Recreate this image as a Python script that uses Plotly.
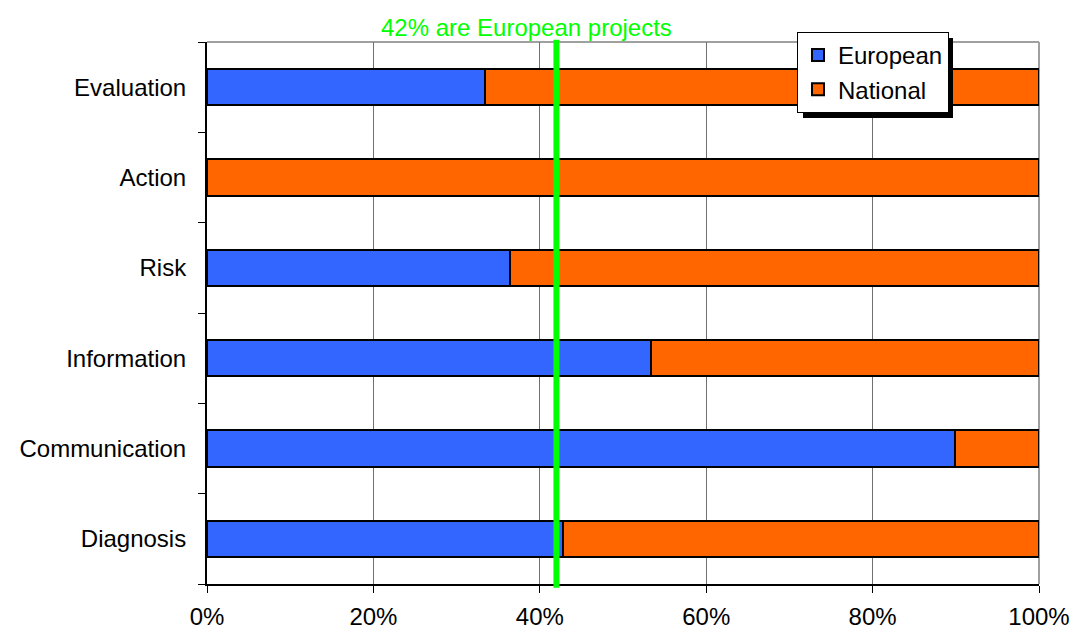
import plotly.graph_objects as go

categories = ["Diagnosis", "Communication", "Information", "Risk", "Action", "Evaluation"]
european = [0.428, 0.899, 0.534, 0.364, 0.0, 0.334]
national = [round(1 - v, 3) for v in european]
x_ticks = [0, 0.2, 0.4, 0.6, 0.8, 1.0]
x_tick_labels = ["0%", "20%", "40%", "60%", "80%", "100%"]
european_share = 0.42
annotation_text = "42% are European projects"

FONT = "Liberation Sans, Arial, sans-serif"
W, H = 1074, 631

fig = go.Figure()
fig.add_trace(go.Bar(
    y=categories, x=european, orientation="h", name="European",
    marker=dict(color="#3366FF", line=dict(color="black", width=2)),
    width=0.4,
))
fig.add_trace(go.Bar(
    y=categories, x=national, orientation="h", name="National",
    marker=dict(color="#FF6600", line=dict(color="black", width=2)),
    width=0.4,
))

fig.update_layout(
    barmode="stack",
    width=W, height=H,
    margin=dict(l=207, r=35, t=42, b=47, autoexpand=False),
    paper_bgcolor="white", plot_bgcolor="white",
    font=dict(family=FONT, size=24, color="black"),
    showlegend=True,
    legend=dict(
        xref="container", yref="container",
        x=797 / W, y=1 - 32 / H,
        xanchor="left", yanchor="top",
        bgcolor="white", bordercolor="black", borderwidth=1,
        font=dict(size=24, family=FONT),
        traceorder="normal",
    ),
    xaxis=dict(
        range=[0, 1], tickvals=x_ticks, ticktext=x_tick_labels,
        showgrid=True, gridcolor="#707070", gridwidth=1,
        showline=True, linecolor="black", linewidth=2,
        ticks="outside", ticklen=7, tickcolor="black", tickwidth=1,
        ticklabelstandoff=3,
        zeroline=False, fixedrange=True, automargin=False,
    ),
    yaxis=dict(
        categoryorder="array", categoryarray=categories,
        showgrid=False, showline=True, linecolor="black", linewidth=2,
        ticks="outside", tickson="boundaries", ticklen=7, tickcolor="black", tickwidth=1,
        ticklabelstandoff=14,
        zeroline=False, fixedrange=True, automargin=False,
    ),
    shapes=[
        # top border
        dict(type="line", xref="paper", yref="paper", x0=0, x1=1, y0=1, y1=1,
             line=dict(color="#A0A0A0", width=2), layer="below"),
        # right border
        dict(type="line", xref="paper", yref="paper", x0=1, x1=1, y0=0, y1=1,
             line=dict(color="#A0A0A0", width=2), layer="below"),
        # legend shadow
        dict(type="rect", xref="paper", yref="paper",
             x0=(803 - 207) / 832, x1=(953 - 207) / 832,
             y0=(584 - 118) / 542, y1=(584 - 38) / 542,
             fillcolor="black", line=dict(width=0), layer="above"),
        # 42% line
        dict(type="line", xref="x", yref="paper", x0=european_share, x1=european_share,
             y0=-0.007, y1=1.004, line=dict(color="#00FF00", width=6), layer="above"),
    ],
    annotations=[
        dict(text=annotation_text, xref="paper", yref="paper",
             x=(526 - 207) / 832, y=(584 - 27) / 542,
             xanchor="center", yanchor="middle", showarrow=False,
             font=dict(color="#00FF00", size=24, family=FONT)),
    ],
)

fig.write_html(
    "out.html",
    config={"displayModeBar": False, "staticPlot": True},
    post_script="document.body.style.margin='0px';document.body.style.overflow='hidden';",
)
